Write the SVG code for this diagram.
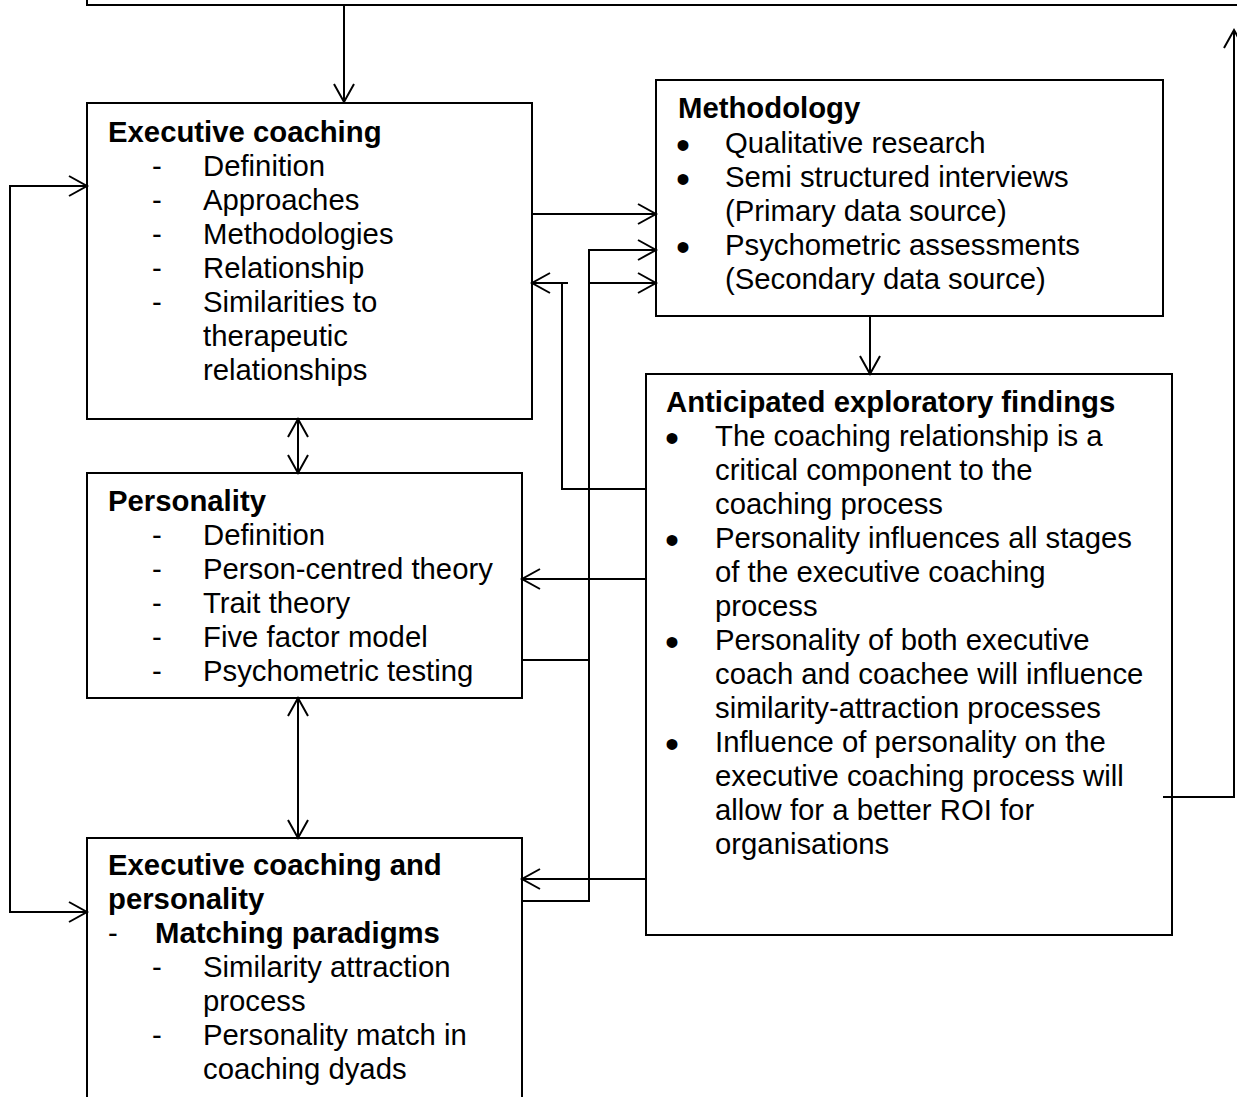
<svg xmlns="http://www.w3.org/2000/svg" width="1237" height="1097" viewBox="0 0 1237 1097">
<style>
.box{fill:#fff;stroke:#000;stroke-width:2}
.c{fill:none;stroke:#000;stroke-width:2}
text{font-family:"Liberation Sans",Arial,sans-serif;font-size:29.3px;fill:#000}
.b{font-weight:bold}
.bl{font-size:40px}
</style>
<defs>
<marker id="ah" markerUnits="userSpaceOnUse" markerWidth="22" markerHeight="24" refX="19" refY="11" orient="auto-start-reverse" viewBox="0 0 22 24">
<path d="M1,1 L19,11 L1,21" fill="none" stroke="#000" stroke-width="2"/>
</marker>
</defs>
<rect width="1237" height="1097" fill="#fff"/>
<g id="top-box"><path class="c" d="M87,-2 L87,5 L1240,5"/></g>
<g id="executive-coaching">
<rect class="box" x="87" y="103" width="445" height="316"/>
<text class="b" x="108" y="142">Executive coaching</text>
<text x="152" y="176">-</text><text x="203" y="176">Definition</text>
<text x="152" y="210">-</text><text x="203" y="210">Approaches</text>
<text x="152" y="244">-</text><text x="203" y="244">Methodologies</text>
<text x="152" y="278">-</text><text x="203" y="278">Relationship</text>
<text x="152" y="312">-</text><text x="203" y="312">Similarities to</text>
<text x="203" y="346">therapeutic</text>
<text x="203" y="380">relationships</text>
</g>
<g id="methodology">
<rect class="box" x="656" y="80" width="507" height="236"/>
<text class="b" x="678" y="118">Methodology</text>
<text class="bl" x="676" y="159">•</text><text x="725" y="153">Qualitative research</text>
<text class="bl" x="676" y="193">•</text><text x="725" y="187">Semi structured interviews</text>
<text x="725" y="221">(Primary data source)</text>
<text class="bl" x="676" y="261">•</text><text x="725" y="255">Psychometric assessments</text>
<text x="725" y="289">(Secondary data source)</text>
</g>
<g id="personality">
<rect class="box" x="87" y="473" width="435" height="225"/>
<text class="b" x="108" y="511">Personality</text>
<text x="152" y="545">-</text><text x="203" y="545">Definition</text>
<text x="152" y="579">-</text><text x="203" y="579">Person-centred theory</text>
<text x="152" y="613">-</text><text x="203" y="613">Trait theory</text>
<text x="152" y="647">-</text><text x="203" y="647">Five factor model</text>
<text x="152" y="681">-</text><text x="203" y="681">Psychometric testing</text>
</g>
<g id="anticipated-findings">
<rect class="box" x="646" y="374" width="526" height="561"/>
<text class="b" x="666" y="412">Anticipated exploratory findings</text>
<text class="bl" x="665" y="452">•</text><text x="715" y="446">The coaching relationship is a</text>
<text x="715" y="480">critical component to the</text>
<text x="715" y="514">coaching process</text>
<text class="bl" x="665" y="554">•</text><text x="715" y="548">Personality influences all stages</text>
<text x="715" y="582">of the executive coaching</text>
<text x="715" y="616">process</text>
<text class="bl" x="665" y="656">•</text><text x="715" y="650">Personality of both executive</text>
<text x="715" y="684">coach and coachee will influence</text>
<text x="715" y="718">similarity-attraction processes</text>
<text class="bl" x="665" y="758">•</text><text x="715" y="752">Influence of personality on the</text>
<text x="715" y="786">executive coaching process will</text>
<text x="715" y="820">allow for a better ROI for</text>
<text x="715" y="854">organisations</text>
</g>
<g id="coaching-and-personality">
<rect class="box" x="87" y="838" width="435" height="270"/>
<text class="b" x="108" y="875">Executive coaching and</text>
<text class="b" x="108" y="909">personality</text>
<text x="108" y="943">-</text><text class="b" x="155" y="943">Matching paradigms</text>
<text x="152" y="977">-</text><text x="203" y="977">Similarity attraction</text>
<text x="203" y="1011">process</text>
<text x="152" y="1045">-</text><text x="203" y="1045">Personality match in</text>
<text x="203" y="1079">coaching dyads</text>
</g>
<g id="connectors">
<path class="c" d="M344,5 L344,102" marker-end="url(#ah)"/>
<path class="c" d="M87,186 L10,186 L10,912 L87,912" marker-start="url(#ah)" marker-end="url(#ah)"/>
<path class="c" d="M532,214 L656,214" marker-end="url(#ah)"/>
<path class="c" d="M522,660 L589,660 L589,250 L656,250" marker-end="url(#ah)"/>
<path class="c" d="M522,901 L589,901 L589,283 L656,283" marker-end="url(#ah)"/>
<path class="c" d="M568,283 L532,283" marker-end="url(#ah)"/>
<path class="c" d="M562,283 L562,489 L646,489"/>
<path class="c" d="M646,579 L522,579" marker-end="url(#ah)"/>
<path class="c" d="M646,879 L522,879" marker-end="url(#ah)"/>
<path class="c" d="M870,316 L870,374" marker-end="url(#ah)"/>
<path class="c" d="M298,419 L298,473" marker-start="url(#ah)" marker-end="url(#ah)"/>
<path class="c" d="M298,698 L298,838" marker-start="url(#ah)" marker-end="url(#ah)"/>
<path class="c" d="M1163,797 L1234,797 L1234,30" marker-end="url(#ah)"/>
</g>
</svg>
